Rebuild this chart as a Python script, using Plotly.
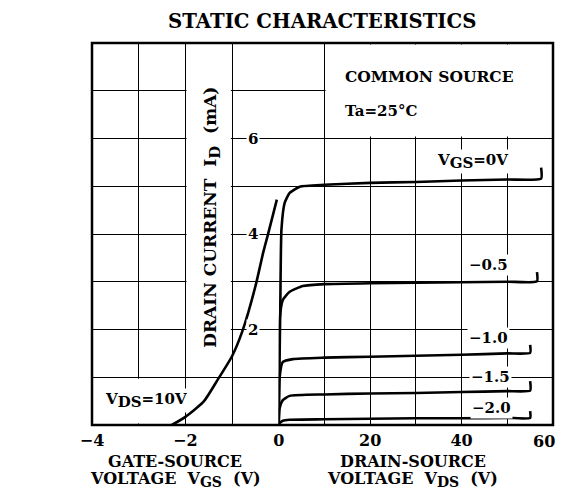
import plotly.graph_objects as go

# ---------------- data ----------------
# Transfer characteristic (V_DS = 10 V): I_D (mA) vs V_GS (V)
vgs_transfer = [-2.29, -2.0, -1.6, -1.3, -1.0, -0.78, -0.5, -0.33, -0.22, -0.04]
id_transfer = [0.0, 0.17, 0.5, 0.96, 1.44, 1.96, 2.9, 3.62, 4.03, 4.72]

# Output characteristics: I_D (mA) vs V_DS (V) for several V_GS
vds_0 = [0.0, 0.35, 0.6, 1.3, 2.4, 4.6, 10, 20, 30, 40, 50, 57.4, 57.4]
id_0 = [0.0, 2.5, 4.09, 4.65, 4.86, 4.99, 5.03, 5.07, 5.09, 5.12, 5.14, 5.16, 5.39]

vds_05 = [0.0, 0.2, 0.9, 2.4, 5.3, 10, 20, 30, 40, 50, 56.5, 56.5]
id_05 = [0.0, 2.2, 2.62, 2.79, 2.91, 2.95, 2.97, 2.98, 2.99, 3.0, 3.01, 3.2]

vds_10 = [0.0, 0.2, 0.9, 3.1, 10, 20, 30, 40, 50, 55, 55]
id_10 = [0.0, 1.0, 1.32, 1.38, 1.41, 1.43, 1.45, 1.47, 1.5, 1.51, 1.68]

vds_15 = [0.0, 0.2, 0.9, 2.4, 10, 20, 30, 40, 50, 55, 55]
id_15 = [0.0, 0.35, 0.52, 0.61, 0.64, 0.66, 0.67, 0.69, 0.71, 0.72, 0.92]

vds_20 = [0.0, 0.3, 0.9, 2.4, 10, 20, 30, 40, 50, 55, 55]
id_20 = [0.0, 0.05, 0.09, 0.11, 0.12, 0.13, 0.14, 0.14, 0.15, 0.15, 0.29]

vgs_tickvals = [-4, -3, -2, -1, 0]
vgs_ticktext = ["−4", "", "−2", "", "0"]
vds_tickvals = [0, 10, 20, 30, 40, 50, 60]
vds_ticktext = ["", "", "20", "", "40", "", ""]
vds_last_label = "60"
id_tickvals = [0, 1, 2, 3, 4, 5, 6, 7, 8]
id_labels = ["6", "4", "2"]
id_label_vals = [6, 4, 2]

FONT = "DejaVu Serif"
LW = 2.6


def sub(s, px):
    return '<sub><span style="font-size:%dpx">%s</span></sub>' % (px, s)


curve_labels = ["V" + sub("GS", 15) + "=0V", "−0.5", "−1.0", "−1.5", "−2.0"]

fig = go.Figure()
fig.add_trace(go.Scatter(x=vgs_transfer, y=id_transfer, mode="lines",
                         line=dict(color="black", width=LW, shape="spline", smoothing=0.6),
                         xaxis="x", yaxis="y", showlegend=False, hoverinfo="skip"))
for xs, ys in [(vds_0, id_0), (vds_05, id_05), (vds_10, id_10), (vds_15, id_15), (vds_20, id_20)]:
    fig.add_trace(go.Scatter(x=xs, y=ys, mode="lines",
                             line=dict(color="black", width=LW, shape="spline", smoothing=0.5),
                             xaxis="x2", yaxis="y2", showlegend=False, hoverinfo="skip"))

split = 0.405
grid = dict(showgrid=True, gridcolor="black", gridwidth=1, zeroline=False,
            showline=False, ticks="")
fig.update_layout(
    width=557, height=482,
    margin=dict(l=84, r=12, t=35, b=65),
    paper_bgcolor="white", plot_bgcolor="white",
    font=dict(family=FONT, color="black"),
    xaxis=dict(domain=[0, split], range=[-4, 0], tickvals=vgs_tickvals, ticktext=vgs_ticktext,
               tickfont=dict(size=16, family=FONT, weight="bold"), ticklabelstandoff=4,
               automargin=False, **grid),
    xaxis2=dict(domain=[split, 1], range=[0, 60], tickvals=vds_tickvals, ticktext=vds_ticktext,
                anchor="y2", tickfont=dict(size=16, family=FONT, weight="bold"),
                ticklabelstandoff=4, automargin=False, **grid),
    yaxis=dict(range=[0, 8], tickvals=id_tickvals, showticklabels=False, anchor="x",
               automargin=False, **grid),
    yaxis2=dict(range=[0, 8], tickvals=id_tickvals, showticklabels=False, anchor="x2",
                matches="y", automargin=False, **grid),
)

# white masks where the original has no grid
masks = [
    ("x2", "y2", 10.25, 59.8, 6.04, 7.97),     # COMMON SOURCE box
    ("x", "y", -1.975, -1.025, 1.03, 7.97),    # y-axis title strip
    ("x", "y", -3.97, -2.03, 0.03, 0.97),      # V_DS = 10V box
]
for xr, yr, x0, x1, y0, y1 in masks:
    fig.add_shape(type="rect", xref=xr, yref=yr, x0=x0, x1=x1, y0=y0, y1=y1,
                  fillcolor="white", line=dict(width=0), layer="between")

# frame
fig.add_shape(type="rect", xref="paper", yref="paper", x0=0, x1=1, y0=0, y1=1,
              line=dict(color="black", width=2.5), layer="above")


def ann(text, x, y, xref, yref, size, **kw):
    kw.setdefault("xanchor", "center")
    kw.setdefault("yanchor", "middle")
    fig.add_annotation(text=text, x=x, y=y, xref=xref, yref=yref, showarrow=False,
                       font=dict(family=FONT, size=size, color="black", weight="bold"), **kw)


ann("STATIC CHARACTERISTICS", 0.499, 1.055, "paper", "paper", 19.7)
ann("COMMON SOURCE", 14.0, 7.3, "x2", "y2", 15.5, xanchor="left")
ann("Ta=25°C", 14.0, 6.58, "x2", "y2", 15, xanchor="left")

label_pos = [(42.3, 5.52), (46.0, 3.35), (46.0, 1.82), (46.3, 1.0), (46.5, 0.36)]
for t, (lx, ly) in zip(curve_labels, label_pos):
    ann(t, lx, ly, "x2", "y2", 15, bgcolor="white", borderpad=1)

ann("V" + sub("DS", 15) + "=10V", -2.84, 0.52, "x", "y", 15, bgcolor="white", borderpad=1)

for t, v in zip(id_labels, id_label_vals):
    ann(t, -0.55, v, "x", "y", 15, bgcolor="white", borderpad=1)

ann("DRAIN CURRENT  I" + sub("D", 15) + "  (mA)", -1.43, 4.36, "x", "y", 17, textangle=-90)

# last x tick label, kept inside the visible page
ann(vds_last_label, 1.0087, -0.044, "paper", "paper", 16, xanchor="right")

ann("GATE-SOURCE", 0.18, -0.095, "paper", "paper", 16)
ann("VOLTAGE  V" + sub("GS", 14) + "  (V)", 0.182, -0.1414, "paper", "paper", 16)
ann("DRAIN-SOURCE", 0.696, -0.095, "paper", "paper", 16)
ann("VOLTAGE  V" + sub("DS", 14) + "  (V)", 0.696, -0.1414, "paper", "paper", 16)

fig.write_html("out.html")
